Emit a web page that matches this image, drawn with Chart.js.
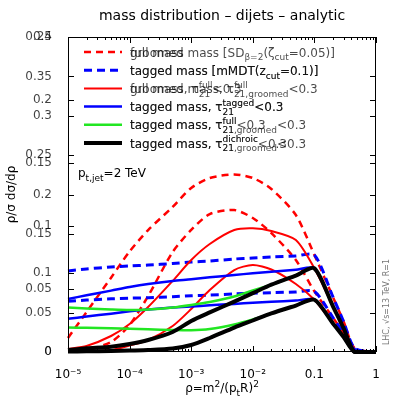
<!DOCTYPE html>
<html>
<head>
<meta charset="utf-8">
<script src="https://cdn.jsdelivr.net/npm/chart.js@4.4.0/dist/chart.umd.min.js"></script>
<style>
  html, body { margin: 0; padding: 0; background: #fff; }
</style>
</head>
<body>
<canvas id="massChart" width="399" height="399"></canvas>
<script>
// rho grid shared by every curve
const rho = [1e-5, 2e-5, 5e-5, 1e-4, 2e-4, 5e-4, 1e-3, 2e-3, 5e-3, 1e-2, 2e-2, 5e-2, 0.1, 0.2, 0.3, 0.45, 1];

// same in both panels
const taggedMMDT      = [0.0643, 0.0659, 0.0675, 0.0683, 0.0690, 0.0702, 0.0714, 0.0722, 0.0738, 0.0746, 0.0754, 0.0762, 0.0770, 0.0437, 0.0238, 0.003, 0];
const taggedTauTagged = [0.0421, 0.0450, 0.0487, 0.0516, 0.0540, 0.0564, 0.0577, 0.0593, 0.0611, 0.0625, 0.0637, 0.0653, 0.0664, 0.0363, 0.0186, 0, 0];

// full mass panel (y up to 0.4)
const fullMass        = [0.0006, 0.0025, 0.0127, 0.0343, 0.0711, 0.1270, 0.1550, 0.1752, 0.1803, 0.1702, 0.1511, 0.1168, 0.0770, 0.0437, 0.0238, 0.003, 0];
const fullMassTauFull = [0.0004, 0.0006, 0.0025, 0.0083, 0.0152, 0.0330, 0.0546, 0.0787, 0.1041, 0.1105, 0.1048, 0.0864, 0.0664, 0.0363, 0.0186, 0, 0];
const taggedTauFull   = [0.0311, 0.0307, 0.0301, 0.0295, 0.0288, 0.0279, 0.0276, 0.0292, 0.0349, 0.0413, 0.0488, 0.0590, 0.0664, 0.0363, 0.0186, 0, 0];
const taggedDichroic  = [0.0006, 0.0009, 0.0013, 0.0019, 0.0025, 0.0044, 0.0089, 0.0178, 0.0310, 0.0400, 0.0490, 0.0590, 0.0664, 0.0363, 0.0186, 0, 0];

// groomed mass panel (y up to 0.25)
const groomedMass      = [0.0111, 0.0317, 0.0590, 0.0798, 0.0968, 0.1151, 0.1302, 0.1381, 0.1409, 0.1381, 0.1294, 0.1087, 0.0770, 0.0437, 0.0238, 0.003, 0];
const groomedMassTau   = [0.0024, 0.0048, 0.0127, 0.0222, 0.0357, 0.0564, 0.0730, 0.0857, 0.0968, 0.0982, 0.0960, 0.0889, 0.0664, 0.0363, 0.0186, 0, 0];
const taggedTauGroomed = [0.0353, 0.0345, 0.0337, 0.0333, 0.0337, 0.0353, 0.0373, 0.0397, 0.0440, 0.0488, 0.0534, 0.0607, 0.0664, 0.0363, 0.0186, 0, 0];
const taggedDichroicGroomed = [0.0016, 0.0029, 0.0042, 0.0063, 0.0095, 0.0159, 0.0246, 0.0314, 0.0400, 0.0467, 0.0534, 0.0607, 0.0664, 0.0363, 0.0186, 0, 0];

const yTicksFull = [0, 0.05, 0.1, 0.15, 0.2, 0.25, 0.3, 0.35, 0.4];
const yTicksGroomed = [0, 0.05, 0.1, 0.15, 0.2, 0.25];
const xTicks = [1e-5, 1e-4, 1e-3, 1e-2, 0.1, 1];
const xTickLabels = ['10⁻⁵', '10⁻⁴', '10⁻³', '10⁻²', '0.1', '1'];

const labelsFull = [
	'full mass',
	'tagged mass [mMDT(z_{cut}=0.1)]',
	'full mass, τ^{full}_{21}<0.3',
	'tagged mass, τ^{tagged}_{21}<0.3',
	'tagged mass, τ^{full}_{21}<0.3',
	'tagged mass, τ^{dichroic}_{21}<0.3'
];
const labelsGroomed = [
	'groomed mass [SD_{β=2}(ζ_{cut}=0.05)]',
	'tagged mass [mMDT(z_{cut}=0.1)]',
	'groomed mass, τ^{full}_{21,groomed}<0.3',
	'tagged mass, τ^{tagged}_{21}<0.3',
	'tagged mass, τ^{full}_{21,groomed}<0.3',
	'tagged mass, τ^{dichroic}_{21,groomed}<0.3'
];

const rowStyles = [
	{ color: '#ff0000', width: 2.5, dash: [7, 5] },
	{ color: '#0000ff', width: 3, dash: [8, 5] },
	{ color: '#ff0000', width: 2, dash: [] },
	{ color: '#0000ff', width: 2.5, dash: [] },
	{ color: '#22e622', width: 2.5, dash: [] },
	{ color: '#000000', width: 4, dash: [] }
];

const FONT = 'DejaVu Sans';

const makeSet = (values, row, panel) => {
	const st = rowStyles[row];
	return {
		label: panel === 'full' ? labelsFull[row] : labelsGroomed[row],
		data: rho.map((r, i) => ({ x: r, y: values[i] })),
		yAxisID: panel === 'full' ? 'y' : 'y2',
		borderColor: st.color,
		borderWidth: st.width,
		borderDash: st.dash,
		pointRadius: 0,
		fill: false,
		tension: 0.25,
		clip: false,
		order: 5 - row,
		row: row,
		panel: panel
	};
};

// small text renderer for ^{} and _{} markup
const parseRich = (str) => {
	const parts = [];
	const re = /\^\{([^}]*)\}|_\{([^}]*)\}|([^^_]+)/g;
	let m;
	while ((m = re.exec(str))) {
		if (m[1] !== undefined) parts.push({ t: m[1], k: 'sup' });
		else if (m[2] !== undefined) parts.push({ t: m[2], k: 'sub' });
		else parts.push({ t: m[3], k: 'txt' });
	}
	return parts;
};

const drawRich = (ctx, str, x, y, size, align) => {
	const parts = parseRich(str);
	const small = Math.round(size * 0.75);
	const groups = [];
	for (let i = 0; i < parts.length; i++) {
		const p = parts[i];
		const nxt = parts[i + 1];
		if (p.k !== 'txt' && nxt && nxt.k !== 'txt' && nxt.k !== p.k) {
			groups.push([p, nxt]);
			i++;
		} else {
			groups.push([p]);
		}
	}
	const fontOf = p => (p.k === 'txt' ? size : small) + 'px "' + FONT + '"';
	const widths = groups.map(g => Math.max(...g.map(p => { ctx.font = fontOf(p); return ctx.measureText(p.t).width; })));
	const total = widths.reduce((a, b) => a + b, 0);
	let cx = align === 'center' ? x - total / 2 : x;
	ctx.textAlign = 'left';
	ctx.textBaseline = 'alphabetic';
	groups.forEach((g, gi) => {
		g.forEach(p => {
			ctx.font = fontOf(p);
			const dy = p.k === 'sup' ? -size * 0.42 : (p.k === 'sub' ? size * 0.32 : 0);
			ctx.fillText(p.t, cx, y + dy);
		});
		cx += widths[gi];
	});
};

const decorations = {
	id: 'decorations',
	// put the second y axis on top of the first one, like two overlaid plots
	afterLayout: (chart) => {
		const y = chart.scales.y, y2 = chart.scales.y2;
		y2.left = y.left;
		y2.right = y.right;
		y2.width = y.width;
	},
	afterDraw: (chart) => {
		const ctx = chart.ctx;
		const a = chart.chartArea;
		const sx = chart.scales.x;
		const line = (x1, y1, x2, y2) => { ctx.beginPath(); ctx.moveTo(x1, y1); ctx.lineTo(x2, y2); ctx.stroke(); };
		ctx.save();
		ctx.strokeStyle = '#000';
		ctx.lineWidth = 1;
		ctx.setLineDash([]);
		ctx.strokeRect(a.left + 0.5, a.top + 0.5, a.right - a.left - 1, a.bottom - a.top - 1);

		// inward tics, mirrored on the right and top
		[chart.scales.y, chart.scales.y2].forEach(s => s.ticks.forEach(t => {
			const py = Math.round(s.getPixelForValue(t.value)) + 0.5;
			line(a.left, py, a.left + 6, py);
			line(a.right - 6, py, a.right, py);
		}));
		for (let e = -5; e <= 0; e++) {
			for (let m = 1; m <= 9; m++) {
				const v = m * Math.pow(10, e);
				if (v > 1) break;
				const px = Math.round(sx.getPixelForValue(v)) + 0.5;
				const len = m === 1 ? 6 : 3;
				line(px, a.bottom, px, a.bottom - len);
				line(px, a.top, px, a.top + len);
			}
		}

		// key
		for (let r = 0; r < 6; r++) {
			const ly = 52 + r * 18.2;
			const st = rowStyles[r];
			ctx.strokeStyle = st.color;
			ctx.lineWidth = st.width;
			ctx.setLineDash(st.dash);
			line(84, ly, 122, ly);
			ctx.setLineDash([]);
			ctx.fillStyle = 'rgba(0,0,0,0.72)';
			chart.data.datasets.filter(d => d.row === r).forEach(d => drawRich(ctx, d.label, 130, ly + 4.5, 12, 'left'));
		}

		ctx.fillStyle = '#000';
		drawRich(ctx, 'p_{t,jet}=2 TeV', 78, 177, 12, 'left');

		// title and axis titles
		ctx.font = '14px "' + FONT + '"';
		ctx.textAlign = 'center';
		ctx.textBaseline = 'alphabetic';
		ctx.fillText('mass distribution – dijets – analytic', (a.left + a.right) / 2, 20);
		drawRich(ctx, 'ρ=m^{2}/(p_{t}R)^{2}', (a.left + a.right) / 2, 392, 12, 'center');

		ctx.save();
		ctx.translate(12, (a.top + a.bottom) / 2);
		ctx.rotate(-Math.PI / 2);
		ctx.font = '12px "' + FONT + '"';
		ctx.textAlign = 'center';
		ctx.textBaseline = 'middle';
		ctx.fillText('ρ/σ dσ/dρ', 0, 0);
		ctx.restore();

		ctx.save();
		ctx.translate(387, 302);
		ctx.rotate(-Math.PI / 2);
		ctx.font = '8px "' + FONT + '"';
		ctx.fillStyle = '#777';
		ctx.textAlign = 'center';
		ctx.textBaseline = 'middle';
		ctx.fillText('LHC, √s=13 TeV, R=1', 0, 0);
		ctx.restore();

		ctx.restore();
	}
};

const tickFont = { family: FONT, size: 12 };

const yScale = (min, max, tickList, w) => ({
	position: 'left',
	min: min,
	max: max,
	afterFit: s => { s.width = w; },
	afterBuildTicks: s => { s.ticks = tickList.map(v => ({ value: v })); },
	ticks: {
		callback: v => String(+v.toFixed(2)),
		font: tickFont,
		color: 'rgba(0,0,0,0.75)',
		padding: 8
	},
	grid: { display: false },
	border: { display: false }
});

new Chart(document.getElementById('massChart').getContext('2d'), {
	type: 'line',
	data: {
		datasets: [
			makeSet(taggedDichroic, 5, 'full'),
			makeSet(taggedDichroicGroomed, 5, 'groomed'),
			makeSet(taggedTauFull, 4, 'full'),
			makeSet(taggedTauGroomed, 4, 'groomed'),
			makeSet(taggedTauTagged, 3, 'full'),
			makeSet(taggedTauTagged, 3, 'groomed'),
			makeSet(fullMassTauFull, 2, 'full'),
			makeSet(groomedMassTau, 2, 'groomed'),
			makeSet(taggedMMDT, 1, 'full'),
			makeSet(taggedMMDT, 1, 'groomed'),
			makeSet(fullMass, 0, 'full'),
			makeSet(groomedMass, 0, 'groomed')
		]
	},
	options: {
		responsive: false,
		animation: false,
		layout: { padding: { left: 0, right: 23, top: 37, bottom: 0 } },
		plugins: {
			legend: { display: false },
			tooltip: { enabled: false },
			title: { display: false }
		},
		scales: {
			x: {
				type: 'logarithmic',
				min: 1e-5,
				max: 1,
				afterFit: s => { s.height = 47; },
				afterBuildTicks: s => { s.ticks = xTicks.map(v => ({ value: v })); },
				ticks: {
					callback: (v, i) => xTickLabels[i],
					font: tickFont,
					color: '#000',
					padding: 8,
					autoSkip: false,
					maxRotation: 0
				},
				grid: { display: false },
				border: { display: false }
			},
			y: yScale(0, 0.4, yTicksFull, 68),
			y2: yScale(0, 0.25, yTicksGroomed, 0)
		}
	},
	plugins: [decorations]
});
</script>
</body>
</html>
